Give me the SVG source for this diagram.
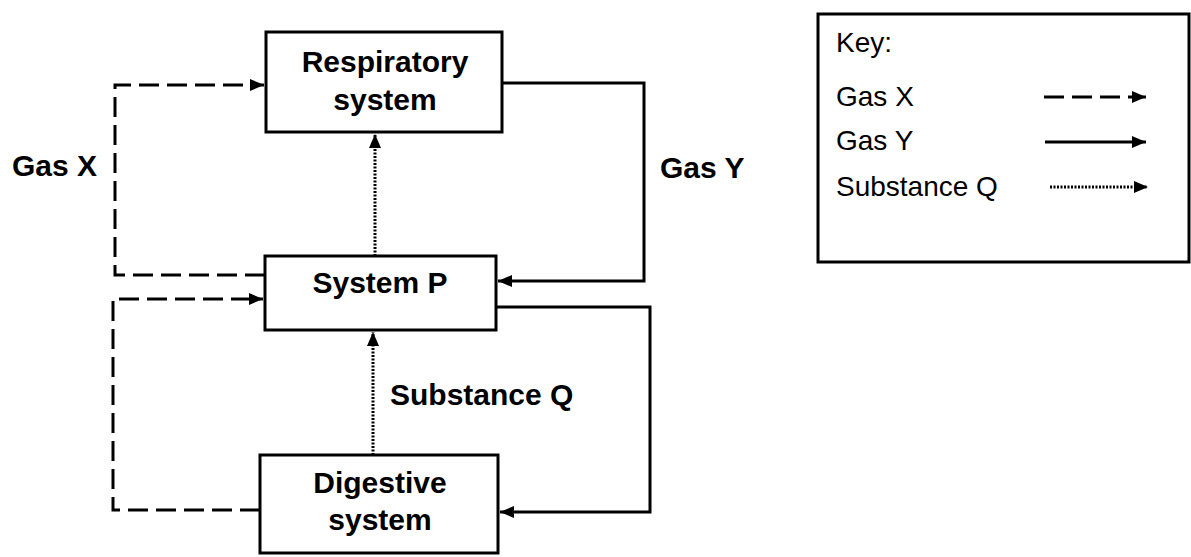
<svg xmlns="http://www.w3.org/2000/svg" width="1191" height="557" viewBox="0 0 1191 557">
<style>
.box{fill:#fff;stroke:#000;stroke-width:3}
.t{font-family:"Liberation Sans",Arial,sans-serif;font-weight:bold;font-size:30px;fill:#000}
.k{font-family:"Liberation Sans",Arial,sans-serif;font-size:28px;fill:#000}
.solid{fill:none;stroke:#000;stroke-width:3}
.dash{fill:none;stroke:#000;stroke-width:3;stroke-dasharray:20 8}
.dot{fill:none;stroke:#000;stroke-width:3;stroke-dasharray:2 1.5}
</style>
<defs>
<marker id="ah" viewBox="0 0 14 12" refX="14" refY="6" markerWidth="14" markerHeight="12" markerUnits="userSpaceOnUse" orient="auto">
<path d="M0,0 L14,6 L0,12 Z" fill="#000"/>
</marker>
</defs>
<rect width="1191" height="557" fill="#fff"/>
<g id="connectors">
<path class="dash" d="M265,275 H115 V85 H264" marker-end="url(#ah)"/>
<path class="dash" d="M260,510 H113 V299 H263" marker-end="url(#ah)"/>
<path class="solid" d="M502,83 H644 V281 H498" marker-end="url(#ah)"/>
<path class="solid" d="M496,307 H650 V512 H500" marker-end="url(#ah)"/>
<path class="dot" d="M375,256 V134" marker-end="url(#ah)"/>
<path class="dot" d="M373,455 V332" marker-end="url(#ah)"/>
</g>
<g id="respiratory">
<rect class="box" x="266" y="32" width="236" height="100"/>
<text class="t" x="385" y="72" text-anchor="middle">Respiratory</text>
<text class="t" x="385" y="110" text-anchor="middle">system</text>
</g>
<g id="systemP">
<rect class="box" x="265" y="256" width="231" height="74"/>
<text class="t" x="380" y="293" text-anchor="middle">System P</text>
</g>
<g id="digestive">
<rect class="box" x="260" y="455" width="238" height="98"/>
<text class="t" x="380" y="493" text-anchor="middle">Digestive</text>
<text class="t" x="380" y="530" text-anchor="middle">system</text>
</g>
<g id="labels">
<text class="t" x="12" y="176">Gas X</text>
<text class="t" x="660" y="178">Gas Y</text>
<text class="t" x="390" y="405">Substance Q</text>
</g>
<g id="key">
<rect class="box" x="818" y="14" width="371" height="248" stroke-width="2"/>
<text class="k" x="836" y="52">Key:</text>
<text class="k" x="836" y="106">Gas X</text>
<text class="k" x="836" y="150">Gas Y</text>
<text class="k" x="836" y="196">Substance Q</text>
<path class="dash" d="M1044,97 H1146" stroke-dasharray="14 5" marker-end="url(#ah)"/>
<path class="solid" d="M1045,142 H1146" marker-end="url(#ah)"/>
<path class="dot" d="M1050,187 H1148" marker-end="url(#ah)"/>
</g>
</svg>
